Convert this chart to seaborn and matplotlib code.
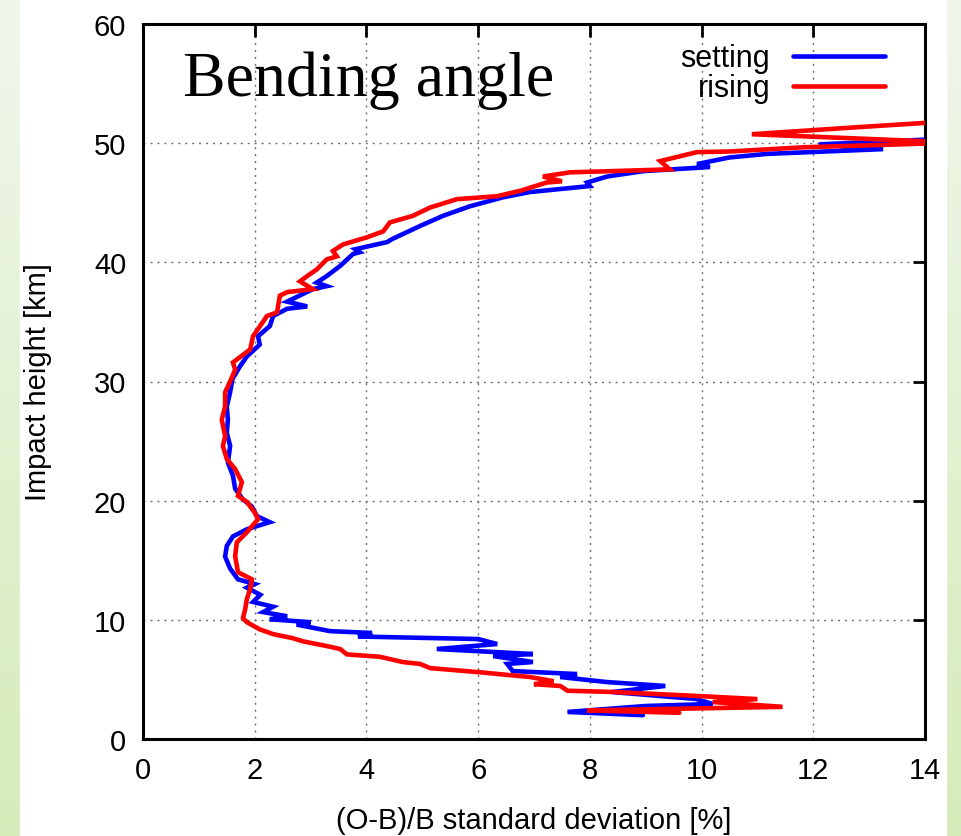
import numpy as np
import pandas as pd
import matplotlib
matplotlib.use("Agg")
import matplotlib.pyplot as plt
import seaborn as sns

# ---- data ----
setting_sd = [8.95, 7.6, 9.0, 10.2, 9.9, 8.4, 9.35, 8.3, 7.47, 7.77, 6.62, 6.52, 6.98, 6.27,
              6.98, 5.26, 6.34, 6.0, 3.85, 4.1, 3.35, 2.75, 3.0, 2.27, 2.58, 2.15, 2.33, 1.97,
              2.1, 1.86, 2.0, 1.7, 1.56, 1.47, 1.5, 1.61, 1.86, 2.27, 2.04, 1.95, 1.79, 1.65,
              1.61, 1.52, 1.56, 1.5, 1.52, 1.5, 1.56, 1.6, 1.74, 1.86, 2.09, 2.06, 2.27, 2.33,
              2.58, 2.94, 2.58, 3.04, 3.29, 3.11, 3.29, 3.53, 3.76, 3.88, 3.8, 4.37, 4.46, 4.96,
              5.37, 5.85, 6.44, 6.93, 8.0, 7.95, 8.31, 8.95, 10.15, 9.92, 10.5, 11.17, 13.25,
              12.1, 14.5]
setting_h = [2.0, 2.27, 2.77, 2.94, 3.36, 3.94, 4.45, 4.78, 5.2, 5.45, 5.7, 6.3, 6.46, 6.96,
             7.13, 7.55, 7.97, 8.39, 8.6, 8.9, 9.05, 9.6, 9.8, 10.05, 10.3, 10.65, 11.1, 11.5,
             12.1, 12.7, 13.0, 13.4, 14.3, 15.3, 16.2, 17.0, 17.6, 18.2, 18.7, 19.5, 20.1, 21.0,
             22.1, 23.2, 24.6, 25.7, 26.8, 27.9, 29.1, 30.2, 31.3, 32.1, 33.1, 33.8, 34.65, 35.5,
             36.1, 36.3, 36.7, 37.75, 38.0, 38.3, 38.85, 39.7, 40.7, 40.85, 41.1, 41.7, 41.95, 43.05,
             43.9, 44.7, 45.45, 45.9, 46.4, 46.7, 47.2, 47.65, 48.0, 48.25, 48.8, 49.1, 49.5,
             49.9, 50.4]

rising_sd = [9.6, 7.95, 11.45, 10.2, 11.0, 9.97, 8.4, 7.6, 7.47, 7.0, 7.35, 6.93, 6.03, 5.14,
             4.96, 4.66, 4.24, 3.65, 3.53, 3.29, 2.86, 2.69, 2.33, 2.09, 1.86, 1.79, 1.83, 1.86,
             1.92, 1.95, 1.7, 1.65, 1.68, 1.86, 2.06, 2.0, 1.86, 1.7, 1.77, 1.65, 1.5, 1.43, 1.47,
             1.41, 1.47, 1.47, 1.56, 1.65, 1.61, 1.92, 1.97, 2.22, 2.4, 2.45, 2.58, 3.04, 2.81,
             2.94, 3.11, 3.29, 3.47, 3.4, 3.58, 4.01, 4.3, 4.42, 4.83, 5.14, 5.62, 6.34, 6.75,
             7.23, 7.5, 7.16, 7.64, 9.43, 9.26, 9.92, 10.5, 11.8, 14.6, 10.9, 12.66, 15.0]
rising_h = [2.2, 2.4, 2.7, 3.1, 3.35, 3.6, 3.95, 4.05, 4.45, 4.6, 4.85, 5.2, 5.6, 5.95,
            6.3, 6.45, 6.9, 7.1, 7.55, 7.8, 8.2, 8.45, 8.8, 9.2, 9.8, 10.15, 10.9, 11.75,
            12.6, 13.4, 14.0, 15.35, 16.5, 17.35, 18.45, 19.0, 19.9, 20.4, 21.55, 22.65, 23.5, 24.6, 25.4,
            26.8, 27.9, 29.1, 30.0, 31.0, 31.6, 32.7, 33.8, 35.5, 35.8, 37.2, 37.5, 37.75, 38.4,
            38.85, 39.4, 40.25, 40.5, 40.95, 41.5, 42.1, 42.6, 43.35, 43.9, 44.6, 45.3, 45.55, 46.0,
            46.7, 46.8, 47.2, 47.55, 47.8, 48.5, 49.25, 49.3, 49.65, 50.05, 50.75, 51.3, 52.0]

series_names = ["setting", "rising"]
series_colors = ["#0000ff", "#ff0000"]
x_ticks = [0, 2, 4, 6, 8, 10, 12, 14]
y_ticks = [0, 10, 20, 30, 40, 50, 60]

df = pd.concat([
    pd.DataFrame({"sd": setting_sd, "h": setting_h, "series": "setting"}),
    pd.DataFrame({"sd": rising_sd, "h": rising_h, "series": "rising"}),
], ignore_index=True)

sns.set_theme(style="white")
plt.rcParams["font.family"] = ["Liberation Sans", "DejaVu Sans"]
plt.rcParams["text.color"] = "black"
plt.rcParams["axes.labelcolor"] = "black"
plt.rcParams["xtick.color"] = "black"
plt.rcParams["ytick.color"] = "black"

W, H = 961, 837
fig = plt.figure(figsize=(W / 100, H / 100), dpi=100)

# background: pale green gradient strips with white centre
bg = fig.add_axes([0, 0, 1, 1], zorder=-10)
top_c = np.array([0.945, 0.965, 0.925])
bot_c = np.array([0.835, 0.925, 0.725])
t = np.linspace(0, 1, 256)[:, None]
grad = top_c[None, None, :] * (1 - t[..., None]) + bot_c[None, None, :] * t[..., None]
grad = np.repeat(grad, 2, axis=1)
bg.imshow(grad, aspect="auto", extent=[0, 1, 0, 1], origin="upper")
bg.add_patch(plt.Rectangle((20 / W, 0), (946 - 20) / W, 1, color="white"))
bg.set_xlim(0, 1); bg.set_ylim(0, 1); bg.axis("off")

ax = fig.add_axes([143 / W, 1 - 740 / H, (925 - 143) / W, (740 - 25) / H])
ax.set_facecolor("none")

palette = dict(zip(series_names, series_colors))
for name in series_names:
    sub = df[df["series"] == name]
    sns.lineplot(data=sub, x="sd", y="h", color=palette[name], sort=False, estimator=None,
                 linewidth=3.3, ax=ax, label=name, solid_joinstyle="miter", zorder=3)

ax.set_xlim(0, 14)
ax.set_ylim(0, 60)
ax.set_xticks(x_ticks)
ax.set_yticks(y_ticks)
ax.grid(True, linestyle=(0, (1.5, 3.5)), color="#707070", linewidth=1.0)
for s in ax.spines.values():
    s.set_linewidth(2.2)
    s.set_color("black")
ax.tick_params(direction="in", length=9, width=2, top=True, right=True,
               labelsize=21, pad=12, colors="black")
ax.set_xlabel("(O-B)/B standard deviation [%]", fontsize=21, labelpad=16)
ax.set_ylabel("Impact height [km]", fontsize=21, labelpad=30)

ax.text(0.051, 0.963, "Bending angle", transform=ax.transAxes, fontsize=46,
        family=["Liberation Serif", "DejaVu Serif"], va="top", ha="left")

leg = ax.legend(loc="upper right", frameon=False, markerfirst=False, fontsize=22,
                handlelength=3.0, handletextpad=0.75, labelspacing=0.0,
                borderaxespad=0.0, bbox_to_anchor=(0.964, 0.99))
for line in leg.get_lines():
    line.set_linewidth(3.3)

fig.savefig("out.png", dpi=100)
